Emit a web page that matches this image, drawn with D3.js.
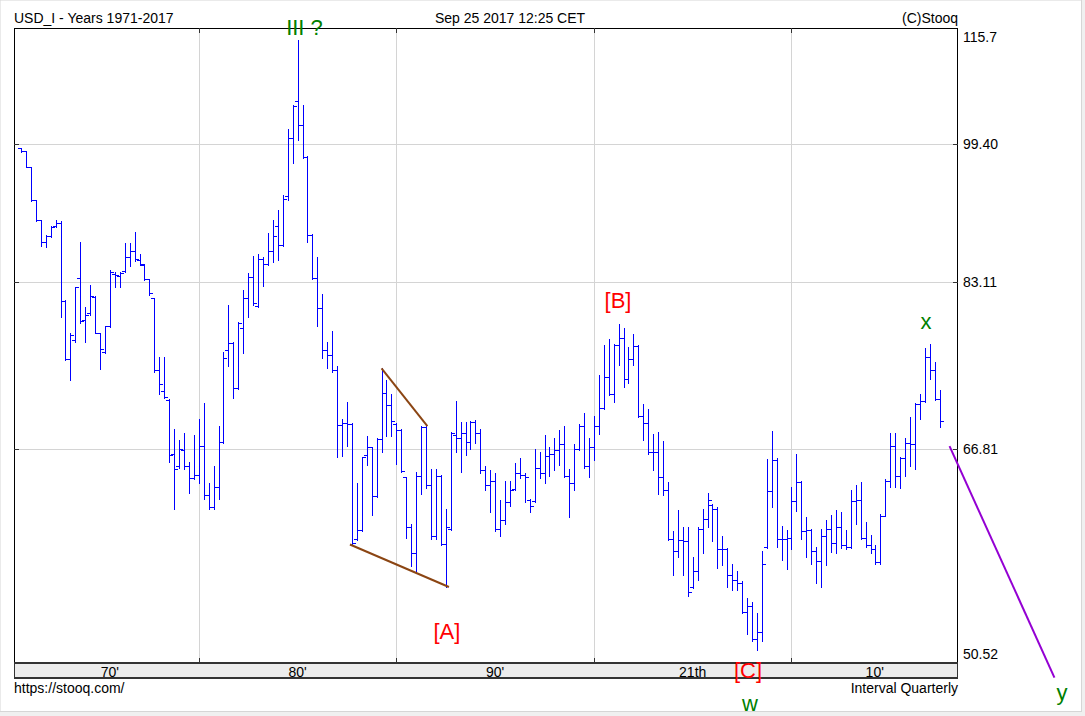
<!DOCTYPE html>
<html><head><meta charset="utf-8">
<script src="https://cdn.jsdelivr.net/npm/d3@7"></script>
<style>
body{margin:0;background:#f0f0f0;}
svg{display:block;}
text{font-family:"Liberation Sans",Arial,sans-serif;}
</style>
</head><body>
<svg id="chart" width="1085" height="716"></svg>
<script>
// ---------- DATA ----------
const title = "USD_I - Years 1971-2017";
const stamp = "Sep 25 2017 12:25 CET";
const copyright = "(C)Stooq";
const sourceUrl = "https://stooq.com/";
const intervalLabel = "Interval Quarterly";
const startYear = 1971; // first quarter 1971 Q1, quarterly bars

const open = [98.9,98.5,96.5,92.4,90.0,87.5,88.2,89.3,89.7,81.0,75.1,77.0,83.5,79.0,79.8,81.4,77.7,75.8,78.4,83.9,
83.7,84.3,85.8,86.5,85.5,84.9,83.4,81.3,74.0,72.0,71.2,66.4,65.3,66.7,65.3,64.3,64.6,67.1,62.9,61.9,
63.6,67.4,76.0,76.7,72.3,78.2,81.3,83.6,80.5,85.6,85.0,86.5,89.3,87.2,92.9,100.2,105.2,101.9,97.8,88.3,
83.5,80.3,76.0,75.5,74.0,68.9,69.1,69.0,59.4,60.1,66.3,67.0,62.8,67.7,71.9,70.7,69.0,68.5,64.4,60.3,
58.3,64.5,68.7,63.7,59.6,64.5,59.0,60.2,68.0,67.8,68.2,67.4,69.2,68.2,65.0,63.7,64.1,60.2,60.9,62.3,
63.4,64.7,64.6,62.5,62.4,65.2,64.7,66.2,66.4,66.7,67.2,64.5,63.9,66.8,68.8,65.3,67.0,68.8,70.5,73.4,
71.8,76.5,77.2,73.2,75.1,76.4,69.7,69.1,66.5,66.5,64.4,63.3,59.4,58.5,59.3,59.2,55.8,57.0,60.2,61.0,
62.1,61.8,58.6,58.6,56.7,56.3,56.1,54.0,54.4,52.1,52.6,58.8,63.2,65.8,59.4,59.4,59.5,62.4,64.0,60.0,
60.1,58.5,57.7,59.6,60.2,59.1,60.3,58.9,58.8,62.4,62.5,59.5,58.9,58.6,57.6,61.2,64.1,67.1,64.5,66.0,
67.3,67.2,70.8,71.1,75.3,74.0,71.3];
const high = [98.9,98.6,96.5,92.4,90.1,88.3,89.3,90.1,89.9,81.1,77.7,82.5,87.5,80.4,82.7,81.6,77.7,78.4,84.4,84.2,
84.1,87.4,87.4,88.7,86.1,85.0,83.4,81.3,75.3,75.3,71.3,68.6,67.6,68.2,65.7,68.0,69.5,70.9,63.9,65.3,
68.8,75.8,80.6,76.8,78.8,82.2,84.0,85.9,86.2,85.8,88.5,90.0,91.2,93.0,101.4,104.6,113.9,104.6,97.9,88.4,
85.8,81.8,76.8,77.9,74.4,69.5,71.0,69.1,63.9,66.1,67.9,67.0,67.8,74.2,73.1,71.8,69.1,68.6,64.4,60.6,
64.8,68.8,69.0,65.1,65.1,64.6,61.8,68.3,71.1,69.2,69.2,69.3,69.4,68.6,65.3,65.0,64.7,62.5,64.1,64.1,
65.6,66.0,64.7,62.6,66.8,66.5,68.0,67.0,67.8,68.5,68.8,65.1,67.2,69.0,70.0,67.8,69.7,73.6,76.5,77.1,
76.6,78.6,78.2,76.3,77.6,76.5,70.8,70.4,68.1,68.3,67.5,64.0,60.0,61.7,60.3,60.3,58.0,60.3,61.8,63.1,
62.2,61.9,59.6,58.7,57.5,57.0,56.2,55.0,54.7,53.9,58.5,65.9,68.4,66.0,60.4,60.1,63.6,66.4,64.1,61.1,
60.2,58.8,60.2,60.9,61.3,61.7,61.5,60.1,63.3,63.7,64.0,60.7,59.7,58.9,61.4,64.2,68.2,68.2,66.1,67.8,
69.6,70.9,71.8,76.2,76.6,74.8,72.1];
const low = [98.4,96.5,92.3,89.9,87.0,86.9,88.1,89.2,79.3,75.0,73.1,76.8,78.7,76.8,79.6,77.7,74.1,75.7,78.3,82.5,
82.5,84.2,84.8,85.4,84.9,83.3,81.7,73.9,71.8,71.4,65.7,61.8,65.2,65.1,63.1,64.2,63.9,62.6,61.8,61.8,
62.6,67.3,74.4,71.4,72.2,75.7,79.4,80.6,80.4,82.6,84.9,85.3,85.5,87.1,92.4,97.0,100.0,97.6,87.5,83.4,
78.4,75.2,74.2,73.9,66.1,66.2,67.1,59.0,59.3,60.0,65.4,61.3,62.7,66.5,67.9,67.9,65.5,64.8,59.5,57.3,
56.8,63.0,63.5,59.4,59.4,58.9,55.8,60.1,66.5,64.8,66.3,66.8,67.3,64.7,63.3,61.5,60.0,59.6,60.6,62.0,
63.3,64.3,62.3,61.5,62.3,64.3,63.9,64.5,65.0,65.4,64.4,61.1,63.3,66.7,65.2,64.4,65.8,68.1,70.4,71.7,
71.0,74.5,72.4,72.8,74.5,69.6,67.6,66.4,65.0,63.0,62.9,59.3,56.7,58.0,56.7,55.1,55.7,56.3,58.3,60.3,
59.2,57.2,57.4,55.8,55.6,55.6,53.9,52.5,52.0,51.4,52.0,58.7,61.9,58.8,57.8,57.1,58.6,61.6,59.4,58.0,
57.5,56.1,55.8,57.4,58.4,58.3,58.7,58.6,58.7,60.6,59.4,58.8,58.3,57.5,57.5,61.2,63.6,63.6,63.5,64.5,
65.3,65.1,69.5,71.0,73.2,71.2,68.7];
const close = [98.5,96.5,92.4,90.0,87.5,88.2,89.2,89.7,81.0,75.1,77.5,82.5,78.9,79.6,81.6,77.7,76.1,78.4,84.2,83.8,
84.0,85.8,86.5,85.6,85.0,83.4,81.9,74.0,72.7,71.5,66.3,65.1,66.8,65.3,64.3,64.6,67.1,62.9,61.9,63.6,
67.4,75.2,76.7,72.3,78.7,81.3,83.6,80.8,85.6,85.0,86.5,88.2,87.2,92.6,100.2,104.5,101.9,97.8,88.3,83.5,
80.3,76.0,75.5,74.0,68.9,69.1,69.0,59.1,60.1,66.1,67.0,62.8,67.7,71.9,70.7,69.3,68.5,64.9,60.3,58.3,
64.5,68.7,63.7,59.6,64.5,59.0,60.3,68.2,67.8,68.2,67.4,69.2,68.2,65.0,63.7,64.1,60.2,60.9,62.3,63.3,
64.7,64.6,64.4,62.0,65.2,64.7,66.2,66.4,66.7,67.2,64.5,63.9,66.8,68.8,65.3,67.0,68.8,70.5,73.4,71.8,
76.5,77.2,73.2,75.1,76.4,69.7,69.1,66.5,66.5,64.4,63.3,59.4,58.5,59.3,59.2,55.4,57.0,60.2,61.0,62.5,
61.8,58.6,58.6,56.7,56.3,56.1,54.0,54.4,52.1,52.6,57.5,63.2,65.8,59.4,59.4,59.5,62.4,64.0,60.0,60.1,
58.5,57.7,59.6,60.2,59.1,60.3,58.9,58.8,62.4,62.5,59.5,58.9,58.6,57.6,61.2,64.1,67.1,64.5,66.0,67.3,
67.2,70.8,71.1,75.3,74.0,71.3,69.3];

const yTickValues = [50.52, 66.81, 83.11, 99.40, 115.7];
const yTickLabels = ["50.52", "66.81", "83.11", "99.40", "115.7"];
const decadeStarts = [1970, 1980, 1990, 2000, 2010];
const xTickLabels = ["70'", "80'", "90'", "21th", "10'"];

// Elliott-wave annotations: [text, date, value]
const noteTexts  = ["III ?", "[A]", "[B]", "[C]", "w", "x", "y"];
const noteDates  = [1985.35, 1992.56, 2001.22, 2007.80, 2007.90, 2016.81, 2023.69];
const noteValues = [114.65, 52.11, 80.28, 49.54, 47.45, 78.11, 48.14];
const noteKinds  = ["wave", "corr", "corr", "corr", "wave", "wave", "wave"];

// drawn lines [date, value]
const wedgeUpper = [[1989.25, 74.2], [1991.57, 68.82]];
const wedgeLower = [[1987.65, 58.97], [1992.66, 55.79]];
const projection = [[2018.0, 67.04], [2023.31, 49.57]];

// ---------- LAYOUT ----------
const W = 1085, H = 716;
const plot = {left: 14, right: 958, top: 28, bottom: 663};
const bandBottom = 678;

const svg = d3.select("#chart");
svg.append("rect").attr("x", 0).attr("y", 0).attr("width", 1081.5).attr("height", 711.5)
  .attr("fill", "#fff").attr("stroke", "#d6d6d6").attr("stroke-width", 1);

const x = d3.scaleLinear().domain([1970.6457, 2018.4286]).range([plot.left, plot.right]);
const y = d3.scaleLog().domain([50.52, 115.7]).range([plot.bottom, plot.top]);

const px = v => Math.round(v) + 0.5;

// header
svg.append("text").attr("x", 14).attr("y", 23).attr("font-size", 14).attr("fill", "#000").text(title);
svg.append("text").attr("x", 510).attr("y", 23).attr("font-size", 14).attr("text-anchor", "middle").attr("fill", "#000").text(stamp);
svg.append("text").attr("x", 958).attr("y", 23).attr("font-size", 14).attr("text-anchor", "end").attr("fill", "#000").text(copyright);

// grid
const grid = svg.append("g");
decadeStarts.slice(1).forEach(d => {
  const gx = px(x(d));
  grid.append("line").attr("x1", gx).attr("x2", gx).attr("y1", plot.top).attr("y2", plot.bottom)
    .attr("stroke", "#d4d4d4").attr("stroke-width", 1);
});
yTickValues.slice(1, -1).forEach(v => {
  const gy = px(y(v));
  grid.append("line").attr("x1", plot.left).attr("x2", plot.right).attr("y1", gy).attr("y2", gy)
    .attr("stroke", "#d4d4d4").attr("stroke-width", 1);
});

// x band
svg.append("rect").attr("x", plot.left).attr("y", plot.bottom).attr("width", plot.right - plot.left)
  .attr("height", bandBottom - plot.bottom).attr("fill", "#ececec");

// frame
svg.append("rect").attr("x", plot.left + 0.5).attr("y", plot.top + 0.5)
  .attr("width", plot.right - plot.left - 1).attr("height", plot.bottom - plot.top)
  .attr("fill", "none").attr("stroke", "#000").attr("stroke-width", 1);
svg.append("line").attr("x1", plot.left).attr("x2", plot.right).attr("y1", plot.bottom).attr("y2", plot.bottom)
  .attr("stroke", "#333").attr("stroke-width", 2);
svg.append("line").attr("x1", plot.left).attr("x2", plot.right).attr("y1", bandBottom).attr("y2", bandBottom)
  .attr("stroke", "#333").attr("stroke-width", 2);
svg.append("line").attr("x1", plot.left + 0.5).attr("x2", plot.left + 0.5).attr("y1", plot.bottom).attr("y2", bandBottom + 1)
  .attr("stroke", "#333").attr("stroke-width", 1);
svg.append("line").attr("x1", plot.right - 0.5).attr("x2", plot.right - 0.5).attr("y1", plot.bottom).attr("y2", bandBottom + 1)
  .attr("stroke", "#333").attr("stroke-width", 1);

// tick marks on frame
decadeStarts.slice(1).forEach(d => {
  const gx = px(x(d));
  svg.append("line").attr("x1", gx).attr("x2", gx).attr("y1", plot.top).attr("y2", plot.top + 5).attr("stroke", "#333");
  svg.append("line").attr("x1", gx).attr("x2", gx).attr("y1", plot.bottom - 5).attr("y2", plot.bottom).attr("stroke", "#333");
});
yTickValues.slice(1, -1).forEach(v => {
  const gy = px(y(v));
  svg.append("line").attr("x1", plot.left).attr("x2", plot.left + 5).attr("y1", gy).attr("y2", gy).attr("stroke", "#333");
  svg.append("line").attr("x1", plot.right - 5).attr("x2", plot.right).attr("y1", gy).attr("y2", gy).attr("stroke", "#333");
});

// y labels (right)
yTickValues.forEach((v, i) => {
  const base = Math.max(plot.top + 14, Math.min(plot.bottom - 4, y(v) + 5));
  svg.append("text").attr("x", 963).attr("y", base).attr("font-size", 14).attr("fill", "#000").text(yTickLabels[i]);
});

// x labels (decade centres, clipped to data span)
const [d0, d1] = [startYear, x.domain()[1]];
decadeStarts.forEach((d, i) => {
  const a = Math.max(d, d0), b = Math.min(d + 10, d1);
  svg.append("text").attr("x", x((a + b) / 2)).attr("y", 677).attr("font-size", 14)
    .attr("text-anchor", "middle").attr("fill", "#000").text(xTickLabels[i]);
});

// footer
svg.append("text").attr("x", 14).attr("y", 693).attr("font-size", 14).attr("fill", "#000").text(sourceUrl);
svg.append("text").attr("x", 958).attr("y", 693).attr("font-size", 14).attr("text-anchor", "end").attr("fill", "#000").text(intervalLabel);

// OHLC bars
const bars = svg.append("g").attr("stroke", "#0000ff").attr("stroke-width", 1).attr("shape-rendering", "crispEdges");
open.forEach((o, i) => {
  const bx = px(x(startYear + i / 4));
  bars.append("line").attr("x1", bx).attr("x2", bx).attr("y1", Math.round(y(high[i]))).attr("y2", Math.round(y(low[i])) + 1);
  const oy = px(y(o)), cy = px(y(close[i]));
  bars.append("line").attr("x1", bx - 3.5).attr("x2", bx).attr("y1", oy).attr("y2", oy);
  bars.append("line").attr("x1", bx).attr("x2", bx + 3.5).attr("y1", cy).attr("y2", cy);
});

// drawn lines
const lineGen = d3.line().x(d => x(d[0])).y(d => y(d[1]));
[wedgeUpper, wedgeLower].forEach(seg => {
  svg.append("path").attr("d", lineGen(seg)).attr("stroke", "#8b4513").attr("stroke-width", 2).attr("fill", "none");
});
svg.append("path").attr("d", lineGen(projection)).attr("stroke", "#9400d3").attr("stroke-width", 2).attr("fill", "none");

// annotations
const noteColor = {wave: "#008000", corr: "#ff0000"};
noteTexts.forEach((t, i) => {
  svg.append("text").attr("x", x(noteDates[i])).attr("y", y(noteValues[i]))
    .attr("font-size", 22).attr("text-anchor", "middle").attr("fill", noteColor[noteKinds[i]]).text(t);
});
</script>
</body></html>
